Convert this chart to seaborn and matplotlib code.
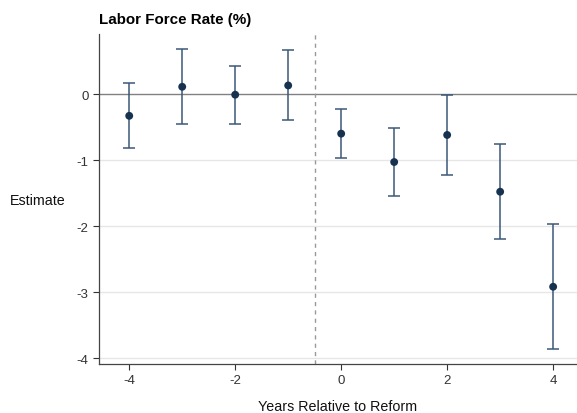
import numpy as np
import pandas as pd
import matplotlib
matplotlib.use("Agg")
import matplotlib.pyplot as plt
import seaborn as sns

# dados
anos = [-4, -3, -2, -1, 0, 1, 2, 3, 4]
estimativa = [-0.33, 0.11, -0.01, 0.13, -0.60, -1.03, -0.62, -1.48, -2.92]
ic_sup = [0.17, 0.68, 0.43, 0.66, -0.22, -0.52, -0.02, -0.76, -1.97]
ic_inf = [-0.82, -0.46, -0.45, -0.39, -0.97, -1.54, -1.22, -2.20, -3.87]

df = pd.DataFrame({'ano': anos, 'est': estimativa, 'sup': ic_sup, 'inf': ic_inf})

sns.set_style("white")
plt.rcParams['font.family'] = ['Liberation Sans', 'DejaVu Sans']
plt.rcParams['axes.unicode_minus'] = False

fig = plt.figure(figsize=(5.77, 4.14), dpi=100)
ax = fig.add_axes([0.1716, 0.1184, 0.8284, 0.7971])

# grades horizontais
for y in [-1, -2, -3, -4]:
    ax.axhline(y, color='#e6e6e6', lw=1, zorder=0)
ax.axhline(0, color='#808080', lw=1, zorder=1)
ax.axvline(-0.5, color='#999999', lw=1, ls=(0, (3, 3)), zorder=1)

# intervalos de confiança
ax.errorbar(df['ano'], df['est'],
            yerr=[df['est'] - df['inf'], df['sup'] - df['est']],
            fmt='none', ecolor='#3b5878', elinewidth=1.1, capsize=4.5,
            capthick=1.1, zorder=2)
sns.scatterplot(data=df, x='ano', y='est', color='#17324f', s=32,
                edgecolor='none', ax=ax, zorder=3)

ax.set_xlim(-4.57, 4.45)
ax.set_ylim(-4.09, 0.91)
ax.set_xticks([-4, -2, 0, 2, 4])
ax.set_yticks([0, -1, -2, -3, -4])
ax.tick_params(axis='both', labelsize=9.5, colors='#333333', length=4,
               width=0.8, direction='out', left=True, bottom=True)
for lab in ax.get_xticklabels() + ax.get_yticklabels():
    lab.set_color('#333333')

sns.despine(ax=ax, top=True, right=True)
ax.spines['left'].set_color('#444444')
ax.spines['bottom'].set_color('#444444')
ax.spines['left'].set_linewidth(0.9)
ax.spines['bottom'].set_linewidth(0.9)

ax.set_xlabel('Years Relative to Reform', fontsize=10.3, labelpad=9,
              color='#111111')
ax.set_ylabel('')
fig.text(0.017, 0.515, 'Estimate', fontsize=10.3, va='center', ha='left',
         color='#111111')
fig.text(0.1716, 0.935, 'Labor Force Rate (%)', fontsize=10.9,
         fontweight='bold', ha='left', va='bottom', color='#000000')

fig.savefig('out.png', dpi=100)
